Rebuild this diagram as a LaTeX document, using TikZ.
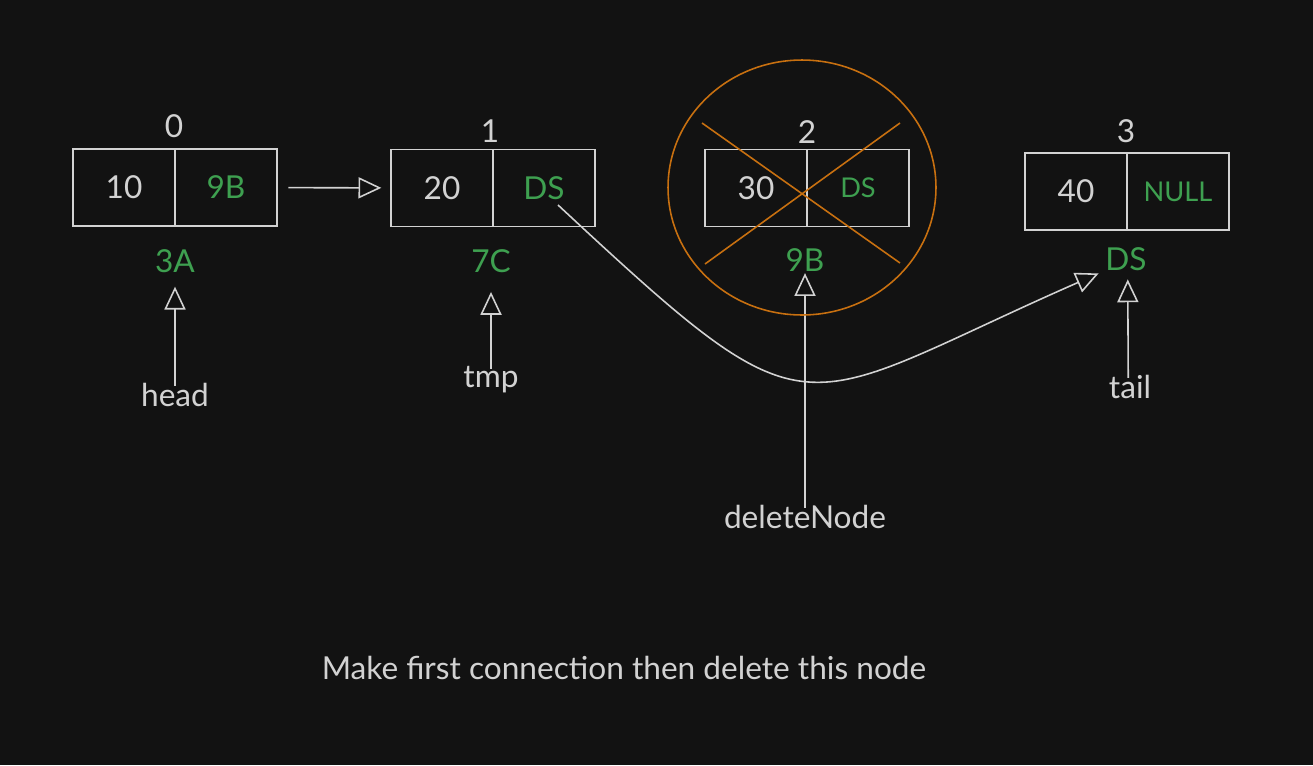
\documentclass[tikz,border=0pt]{standalone}
\usepackage{fontspec}
\setmainfont{Lato}
\usetikzlibrary{arrows.meta}
\definecolor{bg}{HTML}{121212}
\definecolor{ink}{HTML}{D2D2D2}
\definecolor{addrgreen}{HTML}{3EA050}
\definecolor{goneorange}{HTML}{C87010}

\begin{document}
\begin{tikzpicture}[x=0.02cm,y=-0.02cm]
		\fill[bg] (0,0) rectangle (1313,765);
		\tikzstyle{txt}=[text=ink,inner sep=0pt,font=\fontsize{18}{21}\selectfont]
		\tikzstyle{cell}=[draw=ink,line width=1pt,minimum width=2.04cm,minimum height=1.54cm,inner sep=0pt,text=ink,font=\fontsize{18}{21}\selectfont]
		\tikzstyle{ptrcell}=[cell,text=addrgreen]
		\tikzstyle{addr}=[txt,text=addrgreen,anchor=base]
		\tikzstyle{ptr}=[draw=ink,line width=0.9pt,-{Triangle[open,length=13pt,width=12pt]}]
		% the four list nodes
		\node[cell] (v_0) at (124,187.5) {10};
		\node[ptrcell] (p_0) at (226,187.5) {9B};
		\node[cell] (v_1) at (442,188) {20};
		\node[ptrcell] (p_1) at (544,188) {DS};
		\node[cell] (v_2) at (756,188) {30};
		\node[ptrcell,font=\fontsize{15.5}{18}\selectfont] (p_2) at (858,188) {DS};
		\node[cell] (v_3) at (1076,191.5) {40};
		\node[ptrcell,font=\fontsize{15.5}{18}\selectfont] (p_3) at (1178,191.5) {NULL};
		% indices
		\node[txt,anchor=base] (i_0) at (174,137) {0};
		\node[txt,anchor=base] (i_1) at (490,142) {1};
		\node[txt,anchor=base] (i_2) at (807,143) {2};
		\node[txt,anchor=base] (i_3) at (1126,142) {3};
		% addresses
		\node[addr] (a_0) at (175,272) {3A};
		\node[addr] (a_1) at (491,272) {7C};
		\node[addr] (a_2) at (805,271) {9B};
		\node[addr] (a_3) at (1126,270) {DS};
		% pointers
		\node[txt,anchor=base] (head) at (175,406) {head};
		\node[txt,anchor=base] (tmp) at (491,387) {tmp};
		\node[txt,anchor=base] (del) at (805,528) {deleteNode};
		\node[txt,anchor=base] (tail) at (1130,398) {tail};
		\draw[ptr,shorten <=6pt,shorten >=5pt] (p_0) -- (v_1);
		\draw[ptr] ([yshift=-2pt]head.north) -- ([yshift=-8pt]a_0.south);
		\draw[ptr] ([yshift=-2pt]tmp.north) -- ([yshift=-11pt]a_1.south);
		\draw[ptr] ([yshift=-2pt]del.north) -- ([yshift=-1pt]a_2.south);
		\draw[ptr] ([xshift=-1pt,yshift=-2pt]tail.north) -- ([xshift=1pt,yshift=-5pt]a_3.south);
		\draw[ptr,shorten >=4pt] ([shift={(14,17)}]p_1.center) .. controls (818,447) and (790,409) .. (a_3.south west);
		% node 2 is removed
		\draw[goneorange,line width=0.9pt] (802,187.5) ellipse [x radius=2.68cm,y radius=2.55cm];
		\draw[goneorange,line width=0.9pt] (702,123) -- (900,263);
		\draw[goneorange,line width=0.9pt] (900,123) -- (705,264);
		\node[txt,anchor=base] (note) at (624,679) {Make first connection then delete this node};
	\end{tikzpicture}
\end{document}
